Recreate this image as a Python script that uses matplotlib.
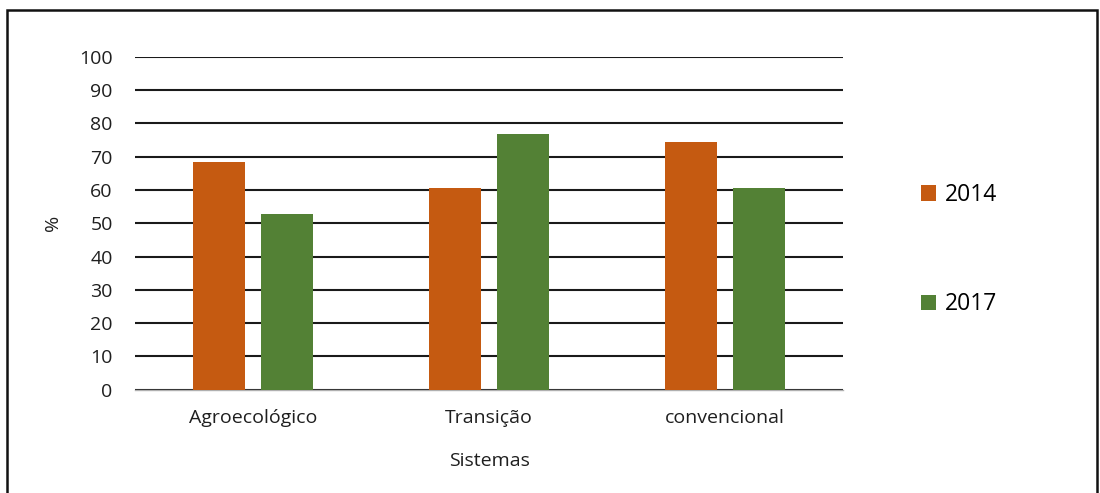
import matplotlib
matplotlib.use("Agg")
import matplotlib.pyplot as plt
import matplotlib.patches as mpatches
import numpy as np

plt.rcParams["font.family"] = ["Open Sans", "DejaVu Sans"]

CATEGORIES = ["Agroecológico", "Transição", "convencional"]
YEARS = ["2014", "2017"]
VALUES_2014 = [68.5, 60.6, 74.5]
VALUES_2017 = [52.7, 76.9, 60.6]
COLORS = ["#C55A11", "#538135"]
YTICKS = list(range(0, 101, 10))

fig = plt.figure(figsize=(11, 4.93), dpi=100)
ax = fig.add_axes([0.1227, 0.2099, 0.6437, 0.6745])

x = np.arange(len(CATEGORIES))
width = 0.22
offset = 0.144
ax.bar(x - offset, VALUES_2014, width, color=COLORS[0], label=YEARS[0], zorder=3)
ax.bar(x + offset, VALUES_2017, width, color=COLORS[1], label=YEARS[1], zorder=3)

ax.set_xlim(-0.5, len(CATEGORIES) - 0.5)
ax.set_ylim(0, 100)
ax.set_yticks(YTICKS)
ax.set_xticks(x)
ax.set_xticklabels(CATEGORIES, fontsize=14, color="#1f1f1f")
ax.tick_params(axis="y", length=0, pad=16, labelsize=14, labelcolor="#1f1f1f")
ax.tick_params(axis="x", length=0, pad=14)

ax.grid(axis="y", color="#1a1a1a", linewidth=1.5, zorder=1)
ax.set_axisbelow(True)
for side in ["top", "right", "left"]:
    ax.spines[side].set_visible(False)
ax.spines["bottom"].set_color("#b0b0b0")
ax.spines["bottom"].set_linewidth(1.0)
ax.spines["bottom"].set_zorder(2)

ax.set_ylabel("%", fontsize=14, color="#1f1f1f", labelpad=12)
ax.set_xlabel("Sistemas", fontsize=14, color="#1f1f1f", labelpad=18)

ax.legend(loc="center left", bbox_to_anchor=(1.081, 0.4205), frameon=False,
          fontsize=16.5, handlelength=0.65, handleheight=0.65, handletextpad=0.4,
          labelspacing=3.72)

frame = mpatches.Rectangle((7 / 1100, -0.05), 1090 / 1100, 1 - 10 / 493 + 0.05,
                           transform=fig.transFigure, fill=False,
                           edgecolor="#111111", linewidth=1.8, clip_on=False)
fig.patches.append(frame)

plt.savefig("out.png", dpi=100)
plt.close()
